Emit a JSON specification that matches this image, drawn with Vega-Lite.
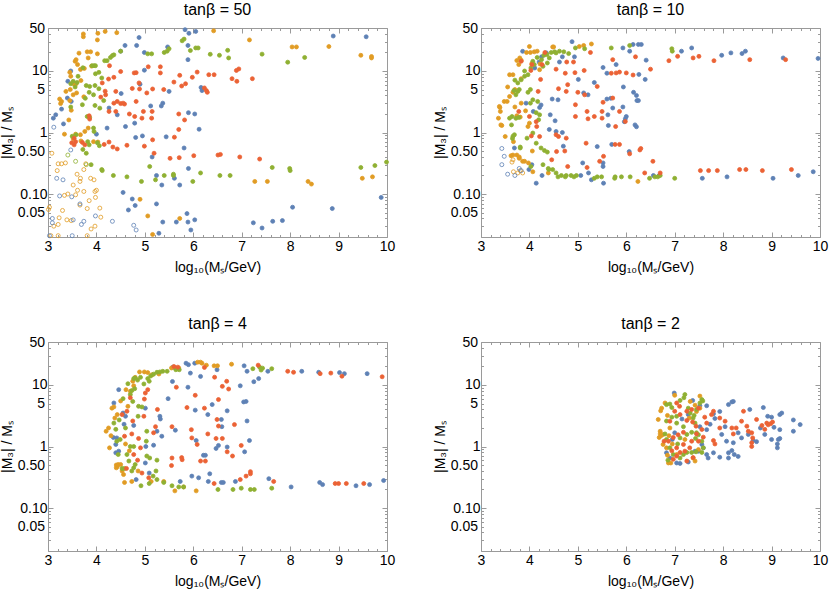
{
  "$schema": "https://vega.github.io/schema/vega-lite/v6.json",
  "background": "white",
  "padding": {"left": 0, "top": 2, "right": 4, "bottom": 2},
  "columns": 2,
  "spacing": {"row": 41, "column": 38},
  "config": {
    "view": {"stroke": null},
    "font": "Liberation Sans",
    "axis": {"domainColor": "#9a9a9a", "tickColor": "#9a9a9a", "labelColor": "#000", "labelFontSize": 14, "titleFontSize": 14, "titleFontWeight": "normal", "titleColor": "#000", "grid": false, "labelOverlap": false, "labelFlush": false},
    "title": {"fontSize": 16, "fontWeight": "normal", "color": "#000", "offset": 3}
  },
  "data": {"values": [
{"p":1,"s":"b","x":3.11,"y":1.71},{"p":1,"s":"b","x":3.16,"y":1.94},{"p":1,"s":"b","x":3.28,"y":2.4},{"p":1,"s":"b","x":3.32,"y":1.38},{"p":1,"s":"b","x":3.4,"y":3.63},{"p":1,"s":"b","x":3.47,"y":10},{"p":1,"s":"b","x":3.41,"y":6.8},{"p":1,"s":"b","x":3.48,"y":3.2},{"p":1,"s":"b","x":4.0,"y":0.94},{"p":1,"s":"b","x":4.22,"y":1.18},{"p":1,"s":"b","x":4.26,"y":2.5},{"p":1,"s":"b","x":4.43,"y":1.94},{"p":1,"s":"b","x":4.51,"y":4.3},{"p":1,"s":"b","x":4.59,"y":26},{"p":1,"s":"b","x":4.5,"y":21},{"p":1,"s":"b","x":4.6,"y":1.25},{"p":1,"s":"b","x":4.83,"y":26},{"p":1,"s":"b","x":4.88,"y":35},{"p":1,"s":"b","x":4.81,"y":0.83},{"p":1,"s":"b","x":4.95,"y":0.88},{"p":1,"s":"b","x":4.99,"y":20},{"p":1,"s":"b","x":4.99,"y":10.3},{"p":1,"s":"b","x":4.9,"y":6.1},{"p":1,"s":"b","x":5.12,"y":2.7},{"p":1,"s":"b","x":5.15,"y":0.4},{"p":1,"s":"b","x":5.34,"y":2.7},{"p":1,"s":"b","x":5.37,"y":3.0},{"p":1,"s":"b","x":5.44,"y":0.85},{"p":1,"s":"b","x":5.47,"y":24.6},{"p":1,"s":"b","x":5.5,"y":4.66},{"p":1,"s":"b","x":5.81,"y":0.56},{"p":1,"s":"b","x":5.83,"y":47},{"p":1,"s":"b","x":5.91,"y":41},{"p":1,"s":"b","x":5.89,"y":15.3},{"p":1,"s":"b","x":5.89,"y":26},{"p":1,"s":"b","x":5.9,"y":2.1},{"p":1,"s":"b","x":6.03,"y":2.0},{"p":1,"s":"b","x":6.05,"y":44},{"p":1,"s":"b","x":6.12,"y":1.13},{"p":1,"s":"b","x":6.16,"y":5.4},{"p":1,"s":"b","x":6.18,"y":4.8},{"p":1,"s":"b","x":5.9,"y":0.26},{"p":1,"s":"b","x":5.24,"y":0.2},{"p":1,"s":"b","x":5.35,"y":0.14},{"p":1,"s":"b","x":5.61,"y":0.18},{"p":1,"s":"b","x":5.72,"y":0.14},{"p":1,"s":"b","x":4.55,"y":0.106},{"p":1,"s":"b","x":4.74,"y":0.083},{"p":1,"s":"b","x":4.8,"y":0.065},{"p":1,"s":"b","x":4.66,"y":0.055},{"p":1,"s":"b","x":5.24,"y":0.069},{"p":1,"s":"b","x":5.37,"y":0.035},{"p":1,"s":"b","x":5.29,"y":0.023},{"p":1,"s":"b","x":5.65,"y":0.035},{"p":1,"s":"b","x":5.87,"y":0.048},{"p":1,"s":"b","x":5.89,"y":0.035},{"p":1,"s":"b","x":5.95,"y":0.026},{"p":1,"s":"b","x":6.03,"y":0.038},{"p":1,"s":"b","x":7.24,"y":0.034},{"p":1,"s":"b","x":7.42,"y":0.028},{"p":1,"s":"b","x":7.64,"y":0.036},{"p":1,"s":"b","x":7.84,"y":0.037},{"p":1,"s":"b","x":8.05,"y":0.061},{"p":1,"s":"b","x":8.87,"y":0.058},{"p":1,"s":"b","x":9.88,"y":0.088},{"p":1,"s":"b","x":8.89,"y":37},{"p":1,"s":"b","x":9.57,"y":36},{"p":1,"s":"b","x":4.79,"y":1.42},
{"p":1,"s":"o","x":3.73,"y":40},{"p":1,"s":"o","x":3.73,"y":36},{"p":1,"s":"o","x":4.03,"y":41},{"p":1,"s":"o","x":4.18,"y":44},{"p":1,"s":"o","x":4.42,"y":42},{"p":1,"s":"o","x":4.02,"y":32},{"p":1,"s":"o","x":3.64,"y":19.5},{"p":1,"s":"o","x":3.56,"y":14.4},{"p":1,"s":"o","x":3.58,"y":15.3},{"p":1,"s":"o","x":3.61,"y":12.7},{"p":1,"s":"o","x":3.81,"y":20.5},{"p":1,"s":"o","x":3.88,"y":20.5},{"p":1,"s":"o","x":4.02,"y":19},{"p":1,"s":"o","x":3.83,"y":16.3},{"p":1,"s":"o","x":3.67,"y":10.6},{"p":1,"s":"o","x":3.75,"y":11},{"p":1,"s":"o","x":3.45,"y":9.5},{"p":1,"s":"o","x":3.9,"y":12},{"p":1,"s":"o","x":3.37,"y":4.66},{"p":1,"s":"o","x":3.46,"y":5},{"p":1,"s":"o","x":3.54,"y":6.1},{"p":1,"s":"o","x":3.58,"y":6.2},{"p":1,"s":"o","x":3.24,"y":3.5},{"p":1,"s":"o","x":3.26,"y":2.95},{"p":1,"s":"o","x":3.28,"y":3.2},{"p":1,"s":"o","x":3.45,"y":3.3},{"p":1,"s":"o","x":3.43,"y":1.6},{"p":1,"s":"o","x":3.48,"y":2.3},{"p":1,"s":"o","x":3.52,"y":0.79},{"p":1,"s":"o","x":3.57,"y":0.94},{"p":1,"s":"o","x":3.67,"y":0.92},{"p":1,"s":"o","x":3.76,"y":1.04},{"p":1,"s":"o","x":3.68,"y":0.73},{"p":1,"s":"o","x":3.83,"y":1.18},{"p":1,"s":"o","x":6.42,"y":45},{"p":1,"s":"o","x":7.16,"y":32},{"p":1,"s":"o","x":8.04,"y":24.6},{"p":1,"s":"o","x":8.13,"y":24.6},{"p":1,"s":"o","x":8.8,"y":25},{"p":1,"s":"o","x":9.46,"y":18},{"p":1,"s":"o","x":9.68,"y":17.2},{"p":1,"s":"o","x":9.68,"y":16.3},{"p":1,"s":"o","x":7.27,"y":0.16},{"p":1,"s":"o","x":7.53,"y":0.16},{"p":1,"s":"o","x":8.37,"y":0.16},{"p":1,"s":"o","x":8.44,"y":0.145},{"p":1,"s":"o","x":9.49,"y":0.18},{"p":1,"s":"o","x":9.7,"y":0.19},{"p":1,"s":"o","x":4.9,"y":0.082},{"p":1,"s":"o","x":5.06,"y":0.044},{"p":1,"s":"o","x":5.72,"y":0.04},{"p":1,"s":"o","x":5.16,"y":0.022},{"p":1,"s":"o","x":3.47,"y":8.2},{"p":1,"s":"o","x":3.68,"y":7.0},{"p":1,"s":"o","x":3.52,"y":4.1},{"p":1,"s":"o","x":3.59,"y":4.4},{"p":1,"s":"o","x":3.74,"y":3.8},{"p":1,"s":"o","x":3.34,"y":0.94},{"p":1,"s":"o","x":3.94,"y":0.71},{"p":1,"s":"o","x":4.03,"y":0.7},
{"p":1,"s":"g","x":3.6,"y":6.5},{"p":1,"s":"g","x":3.72,"y":11.3},{"p":1,"s":"g","x":3.91,"y":12.2},{"p":1,"s":"g","x":3.95,"y":12.2},{"p":1,"s":"g","x":3.98,"y":12.2},{"p":1,"s":"g","x":3.98,"y":9},{"p":1,"s":"g","x":4.05,"y":9.5},{"p":1,"s":"g","x":4.17,"y":14.7},{"p":1,"s":"g","x":4.22,"y":14.7},{"p":1,"s":"g","x":4.29,"y":16.6},{"p":1,"s":"g","x":4.33,"y":17.8},{"p":1,"s":"g","x":4.36,"y":18.3},{"p":1,"s":"g","x":4.5,"y":21},{"p":1,"s":"g","x":5.06,"y":19},{"p":1,"s":"g","x":5.14,"y":19},{"p":1,"s":"g","x":5.4,"y":20},{"p":1,"s":"g","x":5.46,"y":21},{"p":1,"s":"g","x":5.5,"y":23},{"p":1,"s":"g","x":5.77,"y":31},{"p":1,"s":"g","x":5.81,"y":33},{"p":1,"s":"g","x":5.94,"y":21.5},{"p":1,"s":"g","x":6.05,"y":23.7},{"p":1,"s":"g","x":6.1,"y":23.7},{"p":1,"s":"g","x":6.35,"y":18.7},{"p":1,"s":"g","x":6.54,"y":18},{"p":1,"s":"g","x":6.71,"y":21.7},{"p":1,"s":"g","x":6.73,"y":16.3},{"p":1,"s":"g","x":7.42,"y":18.8},{"p":1,"s":"g","x":7.95,"y":13.9},{"p":1,"s":"g","x":8.3,"y":16.6},{"p":1,"s":"g","x":3.47,"y":6.2},{"p":1,"s":"g","x":3.52,"y":6.8},{"p":1,"s":"g","x":3.56,"y":5.5},{"p":1,"s":"g","x":3.79,"y":5.8},{"p":1,"s":"g","x":3.86,"y":5.6},{"p":1,"s":"g","x":3.97,"y":5.8},{"p":1,"s":"g","x":4.05,"y":5.15},{"p":1,"s":"g","x":4.11,"y":7.7},{"p":1,"s":"g","x":3.85,"y":4.5},{"p":1,"s":"g","x":3.94,"y":4.1},{"p":1,"s":"g","x":3.71,"y":2.83},{"p":1,"s":"g","x":3.81,"y":1.82},{"p":1,"s":"g","x":3.86,"y":1.76},{"p":1,"s":"g","x":3.97,"y":2.75},{"p":1,"s":"g","x":4.07,"y":2.49},{"p":1,"s":"g","x":3.47,"y":2.6},{"p":1,"s":"g","x":3.5,"y":0.87},{"p":1,"s":"g","x":3.58,"y":0.92},{"p":1,"s":"g","x":3.94,"y":1.18},{"p":1,"s":"g","x":3.95,"y":1.04},{"p":1,"s":"g","x":3.82,"y":0.71},{"p":1,"s":"g","x":3.79,"y":0.46},{"p":1,"s":"g","x":3.85,"y":0.63},{"p":1,"s":"g","x":4.02,"y":0.68},{"p":1,"s":"g","x":4.06,"y":0.61},{"p":1,"s":"g","x":3.89,"y":0.3},{"p":1,"s":"g","x":4.11,"y":0.25},{"p":1,"s":"g","x":4.12,"y":0.24},{"p":1,"s":"g","x":4.35,"y":0.2},{"p":1,"s":"g","x":4.63,"y":0.19},{"p":1,"s":"g","x":5.1,"y":0.28},{"p":1,"s":"g","x":4.93,"y":0.16},{"p":1,"s":"g","x":5.22,"y":0.17},{"p":1,"s":"g","x":5.4,"y":0.2},{"p":1,"s":"g","x":5.59,"y":0.2},{"p":1,"s":"g","x":5.59,"y":0.21},{"p":1,"s":"g","x":5.99,"y":0.16},{"p":1,"s":"g","x":6.15,"y":0.22},{"p":1,"s":"g","x":6.55,"y":0.2},{"p":1,"s":"g","x":6.76,"y":0.2},{"p":1,"s":"g","x":7.63,"y":0.27},{"p":1,"s":"g","x":7.99,"y":0.26},{"p":1,"s":"g","x":8.0,"y":0.24},{"p":1,"s":"g","x":9.46,"y":0.27},{"p":1,"s":"g","x":9.75,"y":0.29},{"p":1,"s":"g","x":9.99,"y":0.33},{"p":1,"s":"g","x":3.77,"y":3.6},{"p":1,"s":"g","x":3.62,"y":8.2},{"p":1,"s":"g","x":4.15,"y":3.3},{"p":1,"s":"g","x":3.72,"y":0.53},
{"p":1,"s":"r","x":4.27,"y":12.2},{"p":1,"s":"r","x":4.5,"y":9.8},{"p":1,"s":"r","x":4.78,"y":9.3},{"p":1,"s":"r","x":4.82,"y":9.4},{"p":1,"s":"r","x":5.07,"y":11.7},{"p":1,"s":"r","x":5.32,"y":11.7},{"p":1,"s":"r","x":5.32,"y":9.3},{"p":1,"s":"r","x":5.72,"y":8.5},{"p":1,"s":"r","x":5.6,"y":6.6},{"p":1,"s":"r","x":5.76,"y":5.7},{"p":1,"s":"r","x":5.84,"y":6.2},{"p":1,"s":"r","x":5.98,"y":7.9},{"p":1,"s":"r","x":6.08,"y":9.6},{"p":1,"s":"r","x":6.32,"y":8.7},{"p":1,"s":"r","x":6.43,"y":8.7},{"p":1,"s":"r","x":6.23,"y":5.3},{"p":1,"s":"r","x":6.27,"y":4.8},{"p":1,"s":"r","x":6.29,"y":4.5},{"p":1,"s":"r","x":6.8,"y":7.5},{"p":1,"s":"r","x":6.89,"y":10.2},{"p":1,"s":"r","x":6.94,"y":10.8},{"p":1,"s":"r","x":6.9,"y":6.8},{"p":1,"s":"r","x":7.22,"y":7.5},{"p":1,"s":"r","x":4.25,"y":7.4},{"p":1,"s":"r","x":4.36,"y":7.9},{"p":1,"s":"r","x":4.12,"y":6.4},{"p":1,"s":"r","x":4.18,"y":4.7},{"p":1,"s":"r","x":4.4,"y":4.66},{"p":1,"s":"r","x":4.74,"y":5.2},{"p":1,"s":"r","x":4.88,"y":6.4},{"p":1,"s":"r","x":5.16,"y":5.1},{"p":1,"s":"r","x":5.39,"y":5.0},{"p":1,"s":"r","x":5.04,"y":4.4},{"p":1,"s":"r","x":4.89,"y":5.1},{"p":1,"s":"r","x":4.43,"y":3.2},{"p":1,"s":"r","x":4.5,"y":2.95},{"p":1,"s":"r","x":4.58,"y":2.9},{"p":1,"s":"r","x":4.82,"y":3.2},{"p":1,"s":"r","x":4.26,"y":2.2},{"p":1,"s":"r","x":4.4,"y":2.2},{"p":1,"s":"r","x":4.68,"y":2.0},{"p":1,"s":"r","x":4.97,"y":2.2},{"p":1,"s":"r","x":5.15,"y":2.2},{"p":1,"s":"r","x":4.79,"y":1.82},{"p":1,"s":"r","x":4.94,"y":1.71},{"p":1,"s":"r","x":5.14,"y":1.71},{"p":1,"s":"r","x":5.7,"y":2.0},{"p":1,"s":"r","x":5.82,"y":1.6},{"p":1,"s":"r","x":5.7,"y":1.12},{"p":1,"s":"r","x":5.61,"y":0.84},{"p":1,"s":"r","x":5.16,"y":0.76},{"p":1,"s":"r","x":4.99,"y":0.6},{"p":1,"s":"r","x":4.16,"y":0.64},{"p":1,"s":"r","x":4.26,"y":0.7},{"p":1,"s":"r","x":4.34,"y":0.58},{"p":1,"s":"r","x":4.43,"y":0.54},{"p":1,"s":"r","x":4.63,"y":0.62},{"p":1,"s":"r","x":3.76,"y":0.63},{"p":1,"s":"r","x":3.71,"y":0.69},{"p":1,"s":"r","x":3.54,"y":0.63},{"p":1,"s":"r","x":3.49,"y":0.68},{"p":1,"s":"r","x":3.54,"y":0.81},{"p":1,"s":"r","x":3.57,"y":0.71},{"p":1,"s":"r","x":5.52,"y":0.38},{"p":1,"s":"r","x":5.71,"y":0.39},{"p":1,"s":"r","x":6.51,"y":0.43},{"p":1,"s":"r","x":6.56,"y":0.44},{"p":1,"s":"r","x":6.96,"y":0.4},{"p":1,"s":"r","x":7.37,"y":0.37},{"p":1,"s":"r","x":6.01,"y":0.42},{"p":1,"s":"r","x":5.19,"y":0.46},{"p":1,"s":"r","x":4.55,"y":3.0},{"p":1,"s":"r","x":3.85,"y":1.87},{"p":1,"s":"r","x":3.86,"y":1.65},{"p":1,"s":"r","x":4.09,"y":3.76},{"p":1,"s":"r","x":4.19,"y":4.1},{"p":1,"s":"r","x":4.36,"y":3.0},
{"p":1,"s":"o","h":1,"x":3.08,"y":0.46},{"p":1,"s":"o","h":1,"x":3.21,"y":0.31},{"p":1,"s":"o","h":1,"x":3.28,"y":0.31},{"p":1,"s":"o","h":1,"x":3.36,"y":0.32},{"p":1,"s":"o","h":1,"x":3.19,"y":0.24},{"p":1,"s":"o","h":1,"x":3.03,"y":0.061},{"p":1,"s":"o","h":1,"x":3.3,"y":0.054},{"p":1,"s":"o","h":1,"x":3.23,"y":0.041},{"p":1,"s":"o","h":1,"x":3.21,"y":0.032},{"p":1,"s":"o","h":1,"x":3.12,"y":0.03},{"p":1,"s":"o","h":1,"x":3.39,"y":0.038},{"p":1,"s":"o","h":1,"x":3.48,"y":0.037},{"p":1,"s":"o","h":1,"x":3.34,"y":0.095},{"p":1,"s":"o","h":1,"x":3.41,"y":0.1},{"p":1,"s":"o","h":1,"x":3.57,"y":0.097},{"p":1,"s":"o","h":1,"x":3.66,"y":0.16},{"p":1,"s":"o","h":1,"x":3.67,"y":0.18},{"p":1,"s":"o","h":1,"x":3.74,"y":0.25},{"p":1,"s":"o","h":1,"x":3.78,"y":0.31},{"p":1,"s":"o","h":1,"x":3.61,"y":0.115},{"p":1,"s":"o","h":1,"x":3.74,"y":0.11},{"p":1,"s":"o","h":1,"x":3.66,"y":0.066},{"p":1,"s":"o","h":1,"x":3.81,"y":0.058},{"p":1,"s":"o","h":1,"x":3.85,"y":0.078},{"p":1,"s":"o","h":1,"x":3.88,"y":0.18},{"p":1,"s":"o","h":1,"x":3.95,"y":0.17},{"p":1,"s":"o","h":1,"x":3.97,"y":0.11},{"p":1,"s":"o","h":1,"x":4.0,"y":0.115},{"p":1,"s":"o","h":1,"x":3.98,"y":0.088},{"p":1,"s":"o","h":1,"x":4.07,"y":0.059},{"p":1,"s":"o","h":1,"x":3.89,"y":0.027},{"p":1,"s":"o","h":1,"x":3.97,"y":0.03},{"p":1,"s":"o","h":1,"x":4.09,"y":0.042},{"p":1,"s":"o","h":1,"x":3.81,"y":0.021},{"p":1,"s":"o","h":1,"x":3.06,"y":0.021},{"p":1,"s":"o","h":1,"x":3.21,"y":0.021},{"p":1,"s":"o","h":1,"x":3.01,"y":0.056},{"p":1,"s":"o","h":1,"x":3.6,"y":0.21},{"p":1,"s":"o","h":1,"x":3.52,"y":0.14},
{"p":1,"s":"b","h":1,"x":3.12,"y":1.22},{"p":1,"s":"b","h":1,"x":3.18,"y":0.18},{"p":1,"s":"b","h":1,"x":3.31,"y":0.17},{"p":1,"s":"b","h":1,"x":3.24,"y":0.093},{"p":1,"s":"b","h":1,"x":3.49,"y":0.09},{"p":1,"s":"b","h":1,"x":3.66,"y":0.069},{"p":1,"s":"b","h":1,"x":3.74,"y":0.036},{"p":1,"s":"b","h":1,"x":3.98,"y":0.044},{"p":1,"s":"b","h":1,"x":3.52,"y":0.038},{"p":1,"s":"b","h":1,"x":3.69,"y":0.032},{"p":1,"s":"b","h":1,"x":3.03,"y":0.021},{"p":1,"s":"b","h":1,"x":3.5,"y":0.021},{"p":1,"s":"b","h":1,"x":4.33,"y":0.036},{"p":1,"s":"b","h":1,"x":4.77,"y":0.031},{"p":1,"s":"b","h":1,"x":4.82,"y":0.026},{"p":1,"s":"b","h":1,"x":3.47,"y":0.52},{"p":1,"s":"b","h":1,"x":3.09,"y":0.04},{"p":1,"s":"b","h":1,"x":3.09,"y":0.034},
{"p":1,"s":"g","h":1,"x":3.41,"y":0.43},{"p":1,"s":"g","h":1,"x":3.57,"y":0.34},{"p":1,"s":"g","h":1,"x":3.79,"y":0.3},
{"p":2,"s":"b","x":3.86,"y":20.9},{"p":2,"s":"b","x":4.62,"y":14},{"p":2,"s":"b","x":4.68,"y":17},{"p":2,"s":"b","x":4.88,"y":30},{"p":2,"s":"b","x":4.93,"y":17},{"p":2,"s":"b","x":5.01,"y":7.3},{"p":2,"s":"b","x":5.12,"y":4.4},{"p":2,"s":"b","x":5.21,"y":4.1},{"p":2,"s":"b","x":5.34,"y":6.5},{"p":2,"s":"b","x":5.52,"y":11.4},{"p":2,"s":"b","x":5.6,"y":9.2},{"p":2,"s":"b","x":5.6,"y":3.5},{"p":2,"s":"b","x":5.68,"y":3.6},{"p":2,"s":"b","x":5.62,"y":1.94},{"p":2,"s":"b","x":5.63,"y":1.3},{"p":2,"s":"b","x":5.72,"y":2.5},{"p":2,"s":"b","x":5.79,"y":12.7},{"p":2,"s":"b","x":5.93,"y":23.7},{"p":2,"s":"b","x":6.14,"y":27},{"p":2,"s":"b","x":6.25,"y":27},{"p":2,"s":"b","x":6.31,"y":27},{"p":2,"s":"b","x":6.07,"y":21},{"p":2,"s":"b","x":5.94,"y":5.5},{"p":2,"s":"b","x":5.93,"y":2.6},{"p":2,"s":"b","x":5.98,"y":1.67},{"p":2,"s":"b","x":5.96,"y":1.5},{"p":2,"s":"b","x":6.0,"y":1.82},{"p":2,"s":"b","x":6.15,"y":4.5},{"p":2,"s":"b","x":6.21,"y":4.0},{"p":2,"s":"b","x":6.22,"y":3.3},{"p":2,"s":"b","x":6.25,"y":3.3},{"p":2,"s":"b","x":6.18,"y":1.33},{"p":2,"s":"b","x":6.21,"y":1.24},{"p":2,"s":"b","x":6.26,"y":8.8},{"p":2,"s":"b","x":6.39,"y":7.3},{"p":2,"s":"b","x":6.41,"y":15},{"p":2,"s":"b","x":7.14,"y":21},{"p":2,"s":"b","x":7.35,"y":23.7},{"p":2,"s":"b","x":7.97,"y":18},{"p":2,"s":"b","x":8.16,"y":19.7},{"p":2,"s":"b","x":8.39,"y":19.2},{"p":2,"s":"b","x":8.46,"y":21},{"p":2,"s":"b","x":9.24,"y":16.3},{"p":2,"s":"b","x":9.96,"y":16},{"p":2,"s":"b","x":4.47,"y":3.5},{"p":2,"s":"b","x":4.43,"y":1.94},{"p":2,"s":"b","x":4.53,"y":1.55},{"p":2,"s":"b","x":4.55,"y":1.04},{"p":2,"s":"b","x":4.59,"y":3.4},{"p":2,"s":"b","x":4.68,"y":1.0},{"p":2,"s":"b","x":4.41,"y":1.12},{"p":2,"s":"b","x":4.21,"y":2.55},{"p":2,"s":"b","x":3.93,"y":3.0},{"p":2,"s":"b","x":4.05,"y":0.3},{"p":2,"s":"b","x":3.99,"y":0.25},{"p":2,"s":"b","x":4.14,"y":0.15},{"p":2,"s":"b","x":4.26,"y":0.2},{"p":2,"s":"b","x":5.4,"y":0.59},{"p":2,"s":"b","x":5.1,"y":0.32},{"p":2,"s":"b","x":5.22,"y":0.22},{"p":2,"s":"b","x":5.28,"y":0.17},{"p":2,"s":"b","x":5.52,"y":0.32},{"p":2,"s":"b","x":5.52,"y":0.28},{"p":2,"s":"b","x":5.53,"y":0.15},{"p":2,"s":"b","x":5.7,"y":0.64},{"p":2,"s":"b","x":6.06,"y":0.49},{"p":2,"s":"b","x":6.56,"y":0.2},{"p":2,"s":"b","x":6.68,"y":0.2},{"p":2,"s":"b","x":7.57,"y":0.18},{"p":2,"s":"b","x":8.08,"y":0.19},{"p":2,"s":"b","x":9.03,"y":0.18},{"p":2,"s":"b","x":9.55,"y":0.2},{"p":2,"s":"b","x":9.86,"y":0.23},{"p":2,"s":"b","x":5.06,"y":0.2},{"p":2,"s":"b","x":4.24,"y":2.8},{"p":2,"s":"b","x":4.08,"y":2.2},{"p":2,"s":"b","x":3.69,"y":0.56},{"p":2,"s":"b","x":4.7,"y":0.6},{"p":2,"s":"b","x":4.2,"y":14},{"p":2,"s":"b","x":4.25,"y":17},{"p":2,"s":"b","x":4.11,"y":11.2},{"p":2,"s":"b","x":4.35,"y":19.7},
{"p":2,"s":"o","x":3.36,"y":1.71},{"p":2,"s":"o","x":3.41,"y":1.33},{"p":2,"s":"o","x":3.39,"y":2.55},{"p":2,"s":"o","x":3.4,"y":2.2},{"p":2,"s":"o","x":3.48,"y":3.2},{"p":2,"s":"o","x":3.54,"y":3.2},{"p":2,"s":"o","x":3.59,"y":3.85},{"p":2,"s":"o","x":3.59,"y":8.7},{"p":2,"s":"o","x":3.66,"y":8.7},{"p":2,"s":"o","x":3.66,"y":4.5},{"p":2,"s":"o","x":3.7,"y":5.0},{"p":2,"s":"o","x":3.78,"y":12.7},{"p":2,"s":"o","x":3.83,"y":15},{"p":2,"s":"o","x":3.8,"y":16.3},{"p":2,"s":"o","x":4.0,"y":25},{"p":2,"s":"o","x":3.94,"y":20},{"p":2,"s":"o","x":4.1,"y":20.5},{"p":2,"s":"o","x":4.22,"y":13},{"p":2,"s":"o","x":4.48,"y":24.6},{"p":2,"s":"o","x":3.83,"y":7.5},{"p":2,"s":"o","x":3.83,"y":3.0},{"p":2,"s":"o","x":3.66,"y":0.43},{"p":2,"s":"o","x":3.67,"y":0.71},{"p":2,"s":"o","x":3.79,"y":0.38},{"p":2,"s":"o","x":3.86,"y":0.34},{"p":2,"s":"o","x":4.06,"y":0.5},{"p":2,"s":"o","x":5.03,"y":25},{"p":2,"s":"o","x":5.12,"y":26},{"p":2,"s":"o","x":5.28,"y":27.5},{"p":2,"s":"o","x":6.24,"y":0.16},{"p":2,"s":"o","x":3.38,"y":2.65},{"p":2,"s":"o","x":3.43,"y":1.3},{"p":2,"s":"o","x":3.5,"y":0.86},{"p":2,"s":"o","x":3.74,"y":14.8},{"p":2,"s":"o","x":4.02,"y":20},{"p":2,"s":"o","x":4.16,"y":21},{"p":2,"s":"o","x":4.5,"y":24.6},{"p":2,"s":"o","x":3.74,"y":1.87},{"p":2,"s":"o","x":3.81,"y":1.78},{"p":2,"s":"o","x":3.92,"y":2.25},{"p":2,"s":"o","x":3.97,"y":1.25},{"p":2,"s":"o","x":4.0,"y":1.42},{"p":2,"s":"o","x":3.62,"y":0.42},{"p":2,"s":"o","x":3.74,"y":0.43},{"p":2,"s":"o","x":3.79,"y":0.4},{"p":2,"s":"o","x":3.9,"y":0.34},{"p":2,"s":"o","x":3.98,"y":0.32},{"p":2,"s":"o","x":4.07,"y":0.23},{"p":2,"s":"o","x":4.39,"y":0.22},{"p":2,"s":"o","x":4.05,"y":13.2},{"p":2,"s":"o","x":4.21,"y":10.5},{"p":2,"s":"o","x":3.55,"y":5.5},{"p":2,"s":"o","x":3.7,"y":2.6},
{"p":2,"s":"g","x":3.59,"y":1.71},{"p":2,"s":"g","x":3.64,"y":1.82},{"p":2,"s":"g","x":3.72,"y":1.7},{"p":2,"s":"g","x":3.78,"y":1.76},{"p":2,"s":"g","x":3.66,"y":0.87},{"p":2,"s":"g","x":3.69,"y":0.92},{"p":2,"s":"g","x":3.65,"y":0.8},{"p":2,"s":"g","x":3.72,"y":4.1},{"p":2,"s":"g","x":3.79,"y":5.0},{"p":2,"s":"g","x":3.97,"y":8.7},{"p":2,"s":"g","x":3.9,"y":10},{"p":2,"s":"g","x":4.03,"y":11.2},{"p":2,"s":"g","x":4.07,"y":14.4},{"p":2,"s":"g","x":4.16,"y":16.6},{"p":2,"s":"g","x":4.25,"y":15.3},{"p":2,"s":"g","x":4.3,"y":18},{"p":2,"s":"g","x":4.36,"y":18.5},{"p":2,"s":"g","x":4.45,"y":20},{"p":2,"s":"g","x":4.52,"y":20.5},{"p":2,"s":"g","x":4.62,"y":21},{"p":2,"s":"g","x":4.71,"y":20.5},{"p":2,"s":"g","x":4.95,"y":23.7},{"p":2,"s":"g","x":5.14,"y":23},{"p":2,"s":"g","x":5.69,"y":23.7},{"p":2,"s":"g","x":6.07,"y":26},{"p":2,"s":"g","x":6.94,"y":23},{"p":2,"s":"g","x":6.95,"y":21},{"p":2,"s":"g","x":3.7,"y":7.1},{"p":2,"s":"g","x":3.97,"y":4.5},{"p":2,"s":"g","x":4.07,"y":3.4},{"p":2,"s":"g","x":4.17,"y":3.2},{"p":2,"s":"g","x":4.19,"y":1.61},{"p":2,"s":"g","x":3.95,"y":0.81},{"p":2,"s":"g","x":4.07,"y":0.98},{"p":2,"s":"g","x":3.81,"y":0.56},{"p":2,"s":"g","x":4.37,"y":0.48},{"p":2,"s":"g","x":4.4,"y":0.25},{"p":2,"s":"g","x":4.55,"y":0.22},{"p":2,"s":"g","x":4.66,"y":0.2},{"p":2,"s":"g","x":4.76,"y":0.2},{"p":2,"s":"g","x":4.86,"y":0.2},{"p":2,"s":"g","x":4.97,"y":0.2},{"p":2,"s":"g","x":5.4,"y":0.19},{"p":2,"s":"g","x":5.49,"y":0.19},{"p":2,"s":"g","x":5.77,"y":0.19},{"p":2,"s":"g","x":5.9,"y":0.19},{"p":2,"s":"g","x":6.08,"y":0.19},{"p":2,"s":"g","x":6.48,"y":0.18},{"p":2,"s":"g","x":6.59,"y":0.19},{"p":2,"s":"g","x":6.65,"y":0.19},{"p":2,"s":"g","x":6.7,"y":0.2},{"p":2,"s":"g","x":7.0,"y":0.18},{"p":2,"s":"g","x":3.76,"y":6.4},{"p":2,"s":"g","x":3.83,"y":7.2},{"p":2,"s":"g","x":3.9,"y":8.2},{"p":2,"s":"g","x":4.1,"y":12.7},{"p":2,"s":"g","x":4.28,"y":11.9},{"p":2,"s":"g","x":4.37,"y":13.5},{"p":2,"s":"g","x":4.41,"y":16.3},{"p":2,"s":"g","x":4.55,"y":19.7},{"p":2,"s":"g","x":4.81,"y":19.2},{"p":2,"s":"g","x":3.68,"y":4.8},{"p":2,"s":"g","x":3.76,"y":4.66},{"p":2,"s":"g","x":4.02,"y":5.0},{"p":2,"s":"g","x":4.02,"y":3.0},{"p":2,"s":"g","x":4.14,"y":2.1},{"p":2,"s":"g","x":4.21,"y":1.94},{"p":2,"s":"g","x":3.63,"y":1.33},{"p":2,"s":"g","x":3.81,"y":0.58},{"p":2,"s":"g","x":4.14,"y":0.67},{"p":2,"s":"g","x":4.24,"y":0.56},{"p":2,"s":"g","x":4.31,"y":0.51},{"p":2,"s":"g","x":4.28,"y":0.3},{"p":2,"s":"g","x":4.39,"y":0.26},{"p":2,"s":"g","x":4.48,"y":0.25},{"p":2,"s":"g","x":4.59,"y":0.19},{"p":2,"s":"g","x":4.74,"y":0.19},{"p":2,"s":"g","x":4.92,"y":0.19},{"p":2,"s":"g","x":5.34,"y":0.18},{"p":2,"s":"g","x":5.76,"y":0.18},{"p":2,"s":"g","x":4.03,"y":0.28},
{"p":2,"s":"r","x":4.26,"y":12.7},{"p":2,"s":"r","x":4.55,"y":10.7},{"p":2,"s":"r","x":4.77,"y":14},{"p":2,"s":"r","x":4.91,"y":14},{"p":2,"s":"r","x":4.74,"y":9.2},{"p":2,"s":"r","x":4.94,"y":9.4},{"p":2,"s":"r","x":5.13,"y":10.2},{"p":2,"s":"r","x":5.26,"y":20},{"p":2,"s":"r","x":5.72,"y":15.3},{"p":2,"s":"r","x":5.69,"y":9.2},{"p":2,"s":"r","x":5.79,"y":9.3},{"p":2,"s":"r","x":5.86,"y":9.6},{"p":2,"s":"r","x":6.0,"y":9.3},{"p":2,"s":"r","x":6.14,"y":8.6},{"p":2,"s":"r","x":6.19,"y":17},{"p":2,"s":"r","x":6.5,"y":10.7},{"p":2,"s":"r","x":6.88,"y":14.7},{"p":2,"s":"r","x":7.06,"y":17.3},{"p":2,"s":"r","x":7.38,"y":16.3},{"p":2,"s":"r","x":7.5,"y":17.3},{"p":2,"s":"r","x":7.81,"y":14.7},{"p":2,"s":"r","x":8.55,"y":15.3},{"p":2,"s":"r","x":9.29,"y":15.3},{"p":2,"s":"r","x":4.6,"y":5.15},{"p":2,"s":"r","x":4.79,"y":6.0},{"p":2,"s":"r","x":4.76,"y":4.66},{"p":2,"s":"r","x":5.0,"y":4.5},{"p":2,"s":"r","x":5.14,"y":4.1},{"p":2,"s":"r","x":4.95,"y":2.83},{"p":2,"s":"r","x":4.95,"y":1.82},{"p":2,"s":"r","x":5.19,"y":2.2},{"p":2,"s":"r","x":5.21,"y":1.67},{"p":2,"s":"r","x":5.34,"y":1.82},{"p":2,"s":"r","x":5.4,"y":5.6},{"p":2,"s":"r","x":5.5,"y":2.2},{"p":2,"s":"r","x":5.5,"y":1.71},{"p":2,"s":"r","x":5.52,"y":3.1},{"p":2,"s":"r","x":5.72,"y":3.63},{"p":2,"s":"r","x":5.78,"y":1.25},{"p":2,"s":"r","x":5.86,"y":2.2},{"p":2,"s":"r","x":5.98,"y":1.51},{"p":2,"s":"r","x":4.76,"y":0.81},{"p":2,"s":"r","x":4.55,"y":0.92},{"p":2,"s":"r","x":4.6,"y":0.86},{"p":2,"s":"r","x":4.73,"y":0.5},{"p":2,"s":"r","x":4.56,"y":0.49},{"p":2,"s":"r","x":5.17,"y":0.67},{"p":2,"s":"r","x":5.53,"y":0.41},{"p":2,"s":"r","x":5.77,"y":0.64},{"p":2,"s":"r","x":5.86,"y":0.64},{"p":2,"s":"r","x":6.07,"y":0.45},{"p":2,"s":"r","x":6.28,"y":0.52},{"p":2,"s":"r","x":6.3,"y":0.55},{"p":2,"s":"r","x":6.55,"y":0.34},{"p":2,"s":"r","x":6.7,"y":0.22},{"p":2,"s":"r","x":6.38,"y":0.22},{"p":2,"s":"r","x":4.79,"y":0.28},{"p":2,"s":"r","x":5.19,"y":0.27},{"p":2,"s":"r","x":5.45,"y":0.34},{"p":2,"s":"r","x":4.21,"y":0.86},{"p":2,"s":"r","x":4.04,"y":0.88},{"p":2,"s":"r","x":4.14,"y":1.5},{"p":2,"s":"r","x":4.0,"y":1.82},{"p":2,"s":"r","x":3.78,"y":2.2},{"p":2,"s":"r","x":4.05,"y":12.7},{"p":2,"s":"r","x":4.23,"y":7.3},{"p":2,"s":"r","x":4.18,"y":4.66},{"p":2,"s":"r","x":7.53,"y":0.24},{"p":2,"s":"r","x":7.7,"y":0.24},{"p":2,"s":"r","x":7.88,"y":0.24},{"p":2,"s":"r","x":8.34,"y":0.25},{"p":2,"s":"r","x":8.47,"y":0.25},{"p":2,"s":"r","x":8.81,"y":0.24},{"p":2,"s":"r","x":9.41,"y":0.25},{"p":2,"s":"r","x":4.03,"y":10.2},{"p":2,"s":"r","x":3.83,"y":14.4},{"p":2,"s":"r","x":4.32,"y":20},{"p":2,"s":"r","x":4.46,"y":0.36},{"p":2,"s":"r","x":4.15,"y":1.25},
{"p":2,"s":"o","h":1,"x":3.64,"y":0.33},{"p":2,"s":"o","h":1,"x":3.66,"y":0.36},{"p":2,"s":"o","h":1,"x":3.67,"y":0.23},{"p":2,"s":"o","h":1,"x":3.76,"y":0.22},{"p":2,"s":"o","h":1,"x":3.86,"y":0.22},{"p":2,"s":"o","h":1,"x":3.81,"y":0.24},
{"p":2,"s":"b","h":1,"x":3.43,"y":0.55},{"p":2,"s":"b","h":1,"x":3.48,"y":0.41},{"p":2,"s":"b","h":1,"x":3.43,"y":0.3},{"p":2,"s":"b","h":1,"x":3.55,"y":0.21},{"p":2,"s":"b","h":1,"x":3.7,"y":0.2},{"p":2,"s":"b","h":1,"x":3.79,"y":0.26},{"p":2,"s":"b","h":1,"x":3.83,"y":0.24},
{"p":3,"s":"b","x":4.36,"y":5.1},{"p":3,"s":"b","x":4.46,"y":8.4},{"p":3,"s":"b","x":4.42,"y":1.38},{"p":3,"s":"b","x":4.4,"y":1.08},{"p":3,"s":"b","x":4.4,"y":0.79},{"p":3,"s":"b","x":4.46,"y":0.84},{"p":3,"s":"b","x":4.6,"y":3.1},{"p":3,"s":"b","x":4.77,"y":2.2},{"p":3,"s":"b","x":4.82,"y":0.29},{"p":3,"s":"b","x":5.01,"y":4.2},{"p":3,"s":"b","x":5.02,"y":1.0},{"p":3,"s":"b","x":5.01,"y":0.54},{"p":3,"s":"b","x":5.09,"y":0.37},{"p":3,"s":"b","x":5.18,"y":1.05},{"p":3,"s":"b","x":5.31,"y":3.1},{"p":3,"s":"b","x":5.32,"y":2.8},{"p":3,"s":"b","x":5.25,"y":1.77},{"p":3,"s":"b","x":5.35,"y":1.47},{"p":3,"s":"b","x":5.48,"y":6.0},{"p":3,"s":"b","x":5.58,"y":19.5},{"p":3,"s":"b","x":5.57,"y":11.4},{"p":3,"s":"b","x":5.63,"y":1.84},{"p":3,"s":"b","x":5.63,"y":18.9},{"p":3,"s":"b","x":5.73,"y":0.27},{"p":3,"s":"b","x":5.85,"y":22.6},{"p":3,"s":"b","x":5.89,"y":9.2},{"p":3,"s":"b","x":5.9,"y":21.4},{"p":3,"s":"b","x":5.94,"y":15.6},{"p":3,"s":"b","x":6.03,"y":22.6},{"p":3,"s":"b","x":5.97,"y":0.33},{"p":3,"s":"b","x":6.04,"y":3.9},{"p":3,"s":"b","x":6.06,"y":1.25},{"p":3,"s":"b","x":6.11,"y":0.31},{"p":3,"s":"b","x":6.15,"y":13.8},{"p":3,"s":"b","x":6.21,"y":0.72},{"p":3,"s":"b","x":6.25,"y":0.72},{"p":3,"s":"b","x":6.3,"y":3.3},{"p":3,"s":"b","x":6.34,"y":0.36},{"p":3,"s":"b","x":6.31,"y":0.27},{"p":3,"s":"b","x":6.39,"y":4.8},{"p":3,"s":"b","x":6.47,"y":0.93},{"p":3,"s":"b","x":6.52,"y":1.04},{"p":3,"s":"b","x":6.49,"y":17.7},{"p":3,"s":"b","x":6.58,"y":2.75},{"p":3,"s":"b","x":6.59,"y":2.1},{"p":3,"s":"b","x":6.58,"y":0.26},{"p":3,"s":"b","x":6.62,"y":0.26},{"p":3,"s":"b","x":6.7,"y":0.98},{"p":3,"s":"b","x":6.7,"y":3.8},{"p":3,"s":"b","x":6.87,"y":0.27},{"p":3,"s":"b","x":6.97,"y":9.7},{"p":3,"s":"b","x":7.05,"y":20.5},{"p":3,"s":"b","x":7.04,"y":5.3},{"p":3,"s":"b","x":7.09,"y":5.4},{"p":3,"s":"b","x":7.06,"y":0.82},{"p":3,"s":"b","x":7.11,"y":2.6},{"p":3,"s":"b","x":7.11,"y":16.7},{"p":3,"s":"b","x":7.16,"y":1.25},{"p":3,"s":"b","x":7.25,"y":11.3},{"p":3,"s":"b","x":7.35,"y":12.7},{"p":3,"s":"b","x":7.56,"y":0.3},{"p":3,"s":"b","x":7.54,"y":16.7},{"p":3,"s":"b","x":8.02,"y":0.22},{"p":3,"s":"b","x":8.24,"y":16.7},{"p":3,"s":"b","x":8.59,"y":16.1},{"p":3,"s":"b","x":8.61,"y":0.26},{"p":3,"s":"b","x":8.67,"y":0.24},{"p":3,"s":"b","x":9.02,"y":15.9},{"p":3,"s":"b","x":9.12,"y":15.3},{"p":3,"s":"b","x":9.36,"y":0.23},{"p":3,"s":"b","x":9.59,"y":15.3},{"p":3,"s":"b","x":9.64,"y":0.24},{"p":3,"s":"b","x":9.93,"y":0.28},{"p":3,"s":"b","x":4.35,"y":1.4},{"p":3,"s":"b","x":4.55,"y":3.5},{"p":3,"s":"b","x":4.57,"y":2.3},
{"p":3,"s":"o","x":4.25,"y":2.0},{"p":3,"s":"o","x":4.2,"y":1.77},{"p":3,"s":"o","x":4.32,"y":4.2},{"p":3,"s":"o","x":4.36,"y":4.4},{"p":3,"s":"o","x":4.43,"y":3.3},{"p":3,"s":"o","x":4.61,"y":8.4},{"p":3,"s":"o","x":4.41,"y":0.5},{"p":3,"s":"o","x":4.41,"y":0.45},{"p":3,"s":"o","x":4.43,"y":0.47},{"p":3,"s":"o","x":4.45,"y":0.51},{"p":3,"s":"o","x":4.5,"y":0.51},{"p":3,"s":"o","x":4.53,"y":0.4},{"p":3,"s":"o","x":4.56,"y":0.35},{"p":3,"s":"o","x":4.58,"y":0.26},{"p":3,"s":"o","x":4.7,"y":7.9},{"p":3,"s":"o","x":4.75,"y":11.5},{"p":3,"s":"o","x":4.77,"y":9.7},{"p":3,"s":"o","x":4.8,"y":13.3},{"p":3,"s":"o","x":4.89,"y":16.3},{"p":3,"s":"o","x":4.99,"y":16.3},{"p":3,"s":"o","x":5.06,"y":15.9},{"p":3,"s":"o","x":5.15,"y":14.7},{"p":3,"s":"o","x":5.29,"y":15.1},{"p":3,"s":"o","x":4.65,"y":4.5},{"p":3,"s":"o","x":4.73,"y":0.27},{"p":3,"s":"o","x":4.86,"y":0.4},{"p":3,"s":"o","x":5.13,"y":0.27},{"p":3,"s":"o","x":5.39,"y":0.27},{"p":3,"s":"o","x":5.62,"y":0.19},{"p":3,"s":"o","x":5.8,"y":0.22},{"p":3,"s":"o","x":6.06,"y":0.19},{"p":3,"s":"o","x":6.09,"y":23.5},{"p":3,"s":"o","x":6.15,"y":23.5},{"p":3,"s":"o","x":6.18,"y":22.6},{"p":3,"s":"o","x":6.27,"y":21},{"p":3,"s":"o","x":6.43,"y":20.5},{"p":3,"s":"o","x":6.5,"y":20.5},{"p":3,"s":"o","x":6.79,"y":21.8},{"p":3,"s":"o","x":5.55,"y":18.9},{"p":3,"s":"o","x":5.7,"y":18.9},{"p":3,"s":"o","x":4.3,"y":1.5},{"p":3,"s":"o","x":4.38,"y":2.9},{"p":3,"s":"o","x":4.27,"y":0.95},{"p":3,"s":"o","x":4.6,"y":1.1},{"p":3,"s":"o","x":4.5,"y":5.5},{"p":3,"s":"o","x":4.68,"y":0.85},
{"p":3,"s":"g","x":4.36,"y":2.4},{"p":3,"s":"g","x":4.4,"y":1.9},{"p":3,"s":"g","x":4.47,"y":2.7},{"p":3,"s":"g","x":4.42,"y":1.22},{"p":3,"s":"g","x":4.45,"y":0.74},{"p":3,"s":"g","x":4.49,"y":1.3},{"p":3,"s":"g","x":4.53,"y":0.44},{"p":3,"s":"g","x":4.58,"y":0.44},{"p":3,"s":"g","x":4.63,"y":0.74},{"p":3,"s":"g","x":4.67,"y":0.58},{"p":3,"s":"g","x":4.73,"y":0.4},{"p":3,"s":"g","x":4.77,"y":0.45},{"p":3,"s":"g","x":4.8,"y":0.51},{"p":3,"s":"g","x":4.7,"y":1.0},{"p":3,"s":"g","x":4.77,"y":1.0},{"p":3,"s":"g","x":4.86,"y":3.1},{"p":3,"s":"g","x":4.87,"y":4.5},{"p":3,"s":"g","x":4.94,"y":4.4},{"p":3,"s":"g","x":4.73,"y":8.1},{"p":3,"s":"g","x":4.79,"y":8.7},{"p":3,"s":"g","x":4.7,"y":7.0},{"p":3,"s":"g","x":4.75,"y":5.4},{"p":3,"s":"g","x":4.77,"y":12.7},{"p":3,"s":"g","x":4.8,"y":13},{"p":3,"s":"g","x":4.85,"y":12},{"p":3,"s":"g","x":4.91,"y":13.3},{"p":3,"s":"g","x":4.98,"y":10.4},{"p":3,"s":"g","x":5.06,"y":12.7},{"p":3,"s":"g","x":5.09,"y":11.5},{"p":3,"s":"g","x":5.12,"y":14},{"p":3,"s":"g","x":5.18,"y":15},{"p":3,"s":"g","x":5.25,"y":16.1},{"p":3,"s":"g","x":5.31,"y":16.3},{"p":3,"s":"g","x":5.37,"y":16.7},{"p":3,"s":"g","x":5.46,"y":16.7},{"p":3,"s":"g","x":5.64,"y":17.7},{"p":3,"s":"g","x":5.71,"y":17.7},{"p":3,"s":"g","x":4.92,"y":0.23},{"p":3,"s":"g","x":5.09,"y":0.25},{"p":3,"s":"g","x":5.17,"y":0.33},{"p":3,"s":"g","x":5.25,"y":0.29},{"p":3,"s":"g","x":5.39,"y":0.26},{"p":3,"s":"g","x":5.56,"y":0.23},{"p":3,"s":"g","x":5.7,"y":0.22},{"p":3,"s":"g","x":5.8,"y":0.22},{"p":3,"s":"g","x":6.51,"y":0.2},{"p":3,"s":"g","x":6.82,"y":0.2},{"p":3,"s":"g","x":6.99,"y":0.21},{"p":3,"s":"g","x":7.18,"y":0.2},{"p":3,"s":"g","x":7.26,"y":0.2},{"p":3,"s":"g","x":7.62,"y":0.21},{"p":3,"s":"g","x":7.23,"y":18.4},{"p":3,"s":"g","x":7.37,"y":19.5},{"p":3,"s":"g","x":7.4,"y":17.5},{"p":3,"s":"g","x":7.43,"y":18.8},{"p":3,"s":"g","x":7.62,"y":18.4},{"p":3,"s":"g","x":5.04,"y":1.77},{"p":3,"s":"g","x":5.03,"y":1.22},{"p":3,"s":"g","x":5.04,"y":0.7},{"p":3,"s":"g","x":5.1,"y":0.65},{"p":3,"s":"g","x":5.23,"y":0.4},{"p":3,"s":"g","x":5.25,"y":0.6},{"p":3,"s":"g","x":4.6,"y":2.0},{"p":3,"s":"g","x":4.55,"y":6.0},{"p":3,"s":"g","x":4.65,"y":10.5},
{"p":3,"s":"r","x":4.58,"y":1.47},{"p":3,"s":"r","x":4.63,"y":3.74},{"p":3,"s":"r","x":4.73,"y":1.6},{"p":3,"s":"r","x":4.87,"y":1.35},{"p":3,"s":"r","x":4.91,"y":0.95},{"p":3,"s":"r","x":4.98,"y":3.1},{"p":3,"s":"r","x":4.99,"y":5.9},{"p":3,"s":"r","x":5.01,"y":7.4},{"p":3,"s":"r","x":5.06,"y":8.4},{"p":3,"s":"r","x":5.22,"y":2.1},{"p":3,"s":"r","x":5.26,"y":4.0},{"p":3,"s":"r","x":5.18,"y":1.67},{"p":3,"s":"r","x":5.08,"y":0.31},{"p":3,"s":"r","x":4.94,"y":0.37},{"p":3,"s":"r","x":5.56,"y":2.1},{"p":3,"s":"r","x":5.56,"y":0.65},{"p":3,"s":"r","x":5.55,"y":0.49},{"p":3,"s":"r","x":5.65,"y":9.2},{"p":3,"s":"r","x":5.76,"y":0.66},{"p":3,"s":"r","x":5.77,"y":0.61},{"p":3,"s":"r","x":5.87,"y":4.3},{"p":3,"s":"r","x":5.96,"y":1.88},{"p":3,"s":"r","x":5.97,"y":1.38},{"p":3,"s":"r","x":6.08,"y":1.08},{"p":3,"s":"r","x":6.04,"y":6.8},{"p":3,"s":"r","x":6.15,"y":0.58},{"p":3,"s":"r","x":6.25,"y":0.58},{"p":3,"s":"r","x":6.23,"y":4.2},{"p":3,"s":"r","x":6.23,"y":19.3},{"p":3,"s":"r","x":6.3,"y":1.6},{"p":3,"s":"r","x":6.44,"y":13.4},{"p":3,"s":"r","x":6.47,"y":1.35},{"p":3,"s":"r","x":6.49,"y":2.75},{"p":3,"s":"r","x":6.52,"y":2.15},{"p":3,"s":"r","x":6.6,"y":1.35},{"p":3,"s":"r","x":6.52,"y":5.8},{"p":3,"s":"r","x":6.43,"y":0.25},{"p":3,"s":"r","x":6.6,"y":9.5},{"p":3,"s":"r","x":6.69,"y":11.5},{"p":3,"s":"r","x":6.73,"y":8.6},{"p":3,"s":"r","x":6.7,"y":0.82},{"p":3,"s":"r","x":6.81,"y":0.7},{"p":3,"s":"r","x":6.85,"y":2.27},{"p":3,"s":"r","x":6.99,"y":1.04},{"p":3,"s":"r","x":6.97,"y":0.29},{"p":3,"s":"r","x":7.09,"y":0.33},{"p":3,"s":"r","x":7.18,"y":0.39},{"p":3,"s":"r","x":7.18,"y":0.36},{"p":3,"s":"r","x":7.66,"y":0.27},{"p":3,"s":"r","x":7.34,"y":21},{"p":3,"s":"r","x":7.95,"y":16.7},{"p":3,"s":"r","x":8.07,"y":16.1},{"p":3,"s":"r","x":8.62,"y":15.3},{"p":3,"s":"r","x":8.84,"y":15.6},{"p":3,"s":"r","x":9.07,"y":13.9},{"p":3,"s":"r","x":9.9,"y":13.6},{"p":3,"s":"r","x":8.93,"y":0.25},{"p":3,"s":"r","x":9.0,"y":0.25},{"p":3,"s":"r","x":9.16,"y":0.25},{"p":3,"s":"r","x":9.52,"y":0.25},{"p":3,"s":"r","x":4.7,"y":6.2},{"p":3,"s":"r","x":4.53,"y":3.3},{"p":3,"s":"r","x":4.77,"y":0.74},{"p":3,"s":"r","x":5.6,"y":20},{"p":3,"s":"r","x":5.68,"y":19.5},{"p":3,"s":"r","x":4.85,"y":0.6},{"p":3,"s":"r","x":4.62,"y":0.44},{"p":3,"s":"r","x":4.75,"y":2.6},
{"p":4,"s":"b","x":6.99,"y":7.4},{"p":4,"s":"b","x":7.37,"y":5.6},{"p":4,"s":"b","x":7.66,"y":4.6},{"p":4,"s":"b","x":7.8,"y":3.4},{"p":4,"s":"b","x":7.93,"y":3.7},{"p":4,"s":"b","x":8.11,"y":4.8},{"p":4,"s":"b","x":8.18,"y":5.3},{"p":4,"s":"b","x":8.21,"y":5.4},{"p":4,"s":"b","x":8.55,"y":4.0},{"p":4,"s":"b","x":8.83,"y":4.3},{"p":4,"s":"b","x":8.92,"y":3.1},{"p":4,"s":"b","x":9.0,"y":3.0},{"p":4,"s":"b","x":9.17,"y":3.3},{"p":4,"s":"b","x":9.21,"y":3.5},{"p":4,"s":"b","x":9.45,"y":2.7},{"p":4,"s":"b","x":9.59,"y":2.27},{"p":4,"s":"b","x":9.45,"y":1.77},{"p":4,"s":"b","x":9.17,"y":1.88},{"p":4,"s":"b","x":9.05,"y":2.05},{"p":4,"s":"b","x":8.86,"y":1.57},{"p":4,"s":"b","x":9.0,"y":1.3},{"p":4,"s":"b","x":9.14,"y":1.3},{"p":4,"s":"b","x":9.17,"y":1.35},{"p":4,"s":"b","x":9.12,"y":1.1},{"p":4,"s":"b","x":9.12,"y":0.95},{"p":4,"s":"b","x":8.77,"y":2.0},{"p":4,"s":"b","x":8.52,"y":1.57},{"p":4,"s":"b","x":8.38,"y":1.38},{"p":4,"s":"b","x":8.21,"y":1.15},{"p":4,"s":"b","x":8.18,"y":0.86},{"p":4,"s":"b","x":8.11,"y":0.79},{"p":4,"s":"b","x":8.23,"y":0.74},{"p":4,"s":"b","x":8.31,"y":0.69},{"p":4,"s":"b","x":8.11,"y":0.65},{"p":4,"s":"b","x":7.93,"y":0.67},{"p":4,"s":"b","x":7.8,"y":0.79},{"p":4,"s":"b","x":7.66,"y":0.74},{"p":4,"s":"b","x":7.69,"y":0.65},{"p":4,"s":"b","x":7.59,"y":0.95},{"p":4,"s":"b","x":7.56,"y":1.08},{"p":4,"s":"b","x":7.49,"y":0.84},{"p":4,"s":"b","x":7.42,"y":0.84},{"p":4,"s":"b","x":7.28,"y":0.56},{"p":4,"s":"b","x":7.11,"y":0.53},{"p":4,"s":"b","x":7.04,"y":0.54},{"p":4,"s":"b","x":6.9,"y":0.65},{"p":4,"s":"b","x":6.83,"y":0.79},{"p":4,"s":"b","x":7.0,"y":1.67},{"p":4,"s":"b","x":7.73,"y":2.3},{"p":4,"s":"b","x":7.83,"y":2.85},{"p":4,"s":"b","x":7.66,"y":1.88},{"p":4,"s":"b","x":7.52,"y":2.1},{"p":4,"s":"b","x":7.28,"y":3.3},{"p":4,"s":"b","x":8.04,"y":2.1},{"p":4,"s":"b","x":7.97,"y":1.57},{"p":4,"s":"b","x":8.07,"y":1.22},{"p":4,"s":"b","x":8.31,"y":1.67},{"p":4,"s":"b","x":7.52,"y":4.6},{"p":4,"s":"b","x":8.62,"y":1.25},{"p":4,"s":"b","x":8.69,"y":1.2},{"p":4,"s":"b","x":7.15,"y":2.8},{"p":4,"s":"b","x":6.95,"y":1.3},
{"p":4,"s":"o","x":6.73,"y":4.2},{"p":4,"s":"o","x":6.71,"y":3.8},{"p":4,"s":"o","x":6.7,"y":1.77},{"p":4,"s":"o","x":6.68,"y":1.4},{"p":4,"s":"o","x":6.72,"y":1.5},{"p":4,"s":"o","x":6.76,"y":1.57},{"p":4,"s":"o","x":6.66,"y":2.75},{"p":4,"s":"o","x":6.8,"y":5.1},{"p":4,"s":"o","x":6.85,"y":3.2},{"p":4,"s":"o","x":6.76,"y":1.08},{"p":4,"s":"o","x":6.83,"y":0.95},{"p":4,"s":"o","x":6.87,"y":0.54},{"p":4,"s":"o","x":6.92,"y":0.54},{"p":4,"s":"o","x":6.85,"y":0.72},{"p":4,"s":"o","x":7.04,"y":0.74},{"p":4,"s":"o","x":7.21,"y":1.3},{"p":4,"s":"o","x":7.38,"y":0.65},{"p":4,"s":"o","x":7.49,"y":0.89},{"p":4,"s":"o","x":7.42,"y":0.58},{"p":4,"s":"o","x":7.32,"y":5.4},{"p":4,"s":"o","x":7.42,"y":4.7},{"p":4,"s":"o","x":7.45,"y":3.7},{"p":4,"s":"o","x":7.52,"y":4.2},{"p":4,"s":"o","x":7.52,"y":6.6},{"p":4,"s":"o","x":7.0,"y":6.8},{"p":4,"s":"o","x":6.9,"y":2.0},{"p":4,"s":"o","x":6.88,"y":1.5},{"p":4,"s":"o","x":6.95,"y":1.1},{"p":4,"s":"o","x":7.3,"y":2.9},{"p":4,"s":"o","x":6.7,"y":1.6},
{"p":4,"s":"g","x":6.83,"y":4.8},{"p":4,"s":"g","x":6.9,"y":4.9},{"p":4,"s":"g","x":6.94,"y":4.3},{"p":4,"s":"g","x":7.04,"y":3.1},{"p":4,"s":"g","x":7.04,"y":2.4},{"p":4,"s":"g","x":7.11,"y":5.6},{"p":4,"s":"g","x":7.19,"y":6.2},{"p":4,"s":"g","x":7.21,"y":7.0},{"p":4,"s":"g","x":7.28,"y":4.2},{"p":4,"s":"g","x":7.32,"y":3.5},{"p":4,"s":"g","x":7.38,"y":2.9},{"p":4,"s":"g","x":7.4,"y":3.2},{"p":4,"s":"g","x":7.45,"y":4.0},{"p":4,"s":"g","x":7.52,"y":5.1},{"p":4,"s":"g","x":7.56,"y":5.8},{"p":4,"s":"g","x":7.58,"y":5.5},{"p":4,"s":"g","x":7.45,"y":1.67},{"p":4,"s":"g","x":7.49,"y":1.55},{"p":4,"s":"g","x":7.43,"y":1.35},{"p":4,"s":"g","x":7.56,"y":1.22},{"p":4,"s":"g","x":7.59,"y":0.95},{"p":4,"s":"g","x":7.56,"y":0.8},{"p":4,"s":"g","x":6.8,"y":1.6},{"p":4,"s":"g","x":6.83,"y":1.3},{"p":4,"s":"g","x":6.9,"y":0.95},{"p":4,"s":"g","x":6.97,"y":0.74},{"p":4,"s":"g","x":7.11,"y":0.65},{"p":4,"s":"g","x":7.18,"y":0.74},{"p":4,"s":"g","x":7.25,"y":0.8},{"p":4,"s":"g","x":7.35,"y":0.8},{"p":4,"s":"g","x":7.44,"y":0.82},{"p":4,"s":"g","x":6.83,"y":2.6},{"p":4,"s":"g","x":6.94,"y":3.0},{"p":4,"s":"g","x":7.11,"y":1.38},{"p":4,"s":"g","x":7.25,"y":1.57},{"p":4,"s":"g","x":7.35,"y":1.7},{"p":4,"s":"g","x":7.18,"y":2.1},{"p":4,"s":"g","x":7.42,"y":2.4},{"p":4,"s":"g","x":7.06,"y":1.1},{"p":4,"s":"g","x":6.86,"y":0.6},
{"p":4,"s":"r","x":7.0,"y":3.74},{"p":4,"s":"r","x":7.11,"y":3.3},{"p":4,"s":"r","x":7.25,"y":2.65},{"p":4,"s":"r","x":7.35,"y":4.0},{"p":4,"s":"r","x":7.49,"y":4.2},{"p":4,"s":"r","x":7.37,"y":2.5},{"p":4,"s":"r","x":7.44,"y":2.14},{"p":4,"s":"r","x":7.56,"y":1.89},{"p":4,"s":"r","x":7.66,"y":2.4},{"p":4,"s":"r","x":7.76,"y":3.3},{"p":4,"s":"r","x":7.8,"y":3.74},{"p":4,"s":"r","x":7.93,"y":2.9},{"p":4,"s":"r","x":8.04,"y":2.58},{"p":4,"s":"r","x":8.18,"y":2.0},{"p":4,"s":"r","x":8.27,"y":2.0},{"p":4,"s":"r","x":8.38,"y":2.58},{"p":4,"s":"r","x":8.42,"y":3.74},{"p":4,"s":"r","x":8.49,"y":2.14},{"p":4,"s":"r","x":8.52,"y":1.77},{"p":4,"s":"r","x":8.59,"y":1.67},{"p":4,"s":"r","x":8.59,"y":1.15},{"p":4,"s":"r","x":8.59,"y":1.0},{"p":4,"s":"r","x":8.61,"y":1.38},{"p":4,"s":"r","x":8.69,"y":2.75},{"p":4,"s":"r","x":8.8,"y":2.2},{"p":4,"s":"r","x":8.9,"y":2.4},{"p":4,"s":"r","x":8.93,"y":2.25},{"p":4,"s":"r","x":8.98,"y":2.35},{"p":4,"s":"r","x":8.86,"y":1.9},{"p":4,"s":"r","x":9.02,"y":2.5},{"p":4,"s":"r","x":7.93,"y":2.0},{"p":4,"s":"r","x":7.35,"y":1.22},{"p":4,"s":"r","x":7.49,"y":1.22},{"p":4,"s":"r","x":7.59,"y":1.42},{"p":4,"s":"r","x":7.8,"y":1.25},{"p":4,"s":"r","x":7.83,"y":1.1},{"p":4,"s":"r","x":8.21,"y":1.6},{"p":4,"s":"r","x":6.94,"y":0.85},{"p":4,"s":"r","x":7.04,"y":0.95},{"p":4,"s":"r","x":7.11,"y":0.8},{"p":4,"s":"r","x":7.21,"y":0.84},{"p":4,"s":"r","x":7.31,"y":0.95},{"p":4,"s":"r","x":6.97,"y":1.4},{"p":4,"s":"r","x":7.07,"y":1.55},{"p":4,"s":"r","x":7.18,"y":1.7},{"p":4,"s":"r","x":6.9,"y":2.58},{"p":4,"s":"r","x":7.04,"y":5.1},{"p":4,"s":"r","x":7.25,"y":3.74},{"p":4,"s":"r","x":6.97,"y":0.62},{"p":4,"s":"r","x":7.04,"y":0.7},{"p":4,"s":"r","x":7.38,"y":0.66},{"p":4,"s":"r","x":6.78,"y":1.22},{"p":4,"s":"r","x":6.87,"y":1.22},{"p":4,"s":"r","x":7.18,"y":1.08},{"p":4,"s":"r","x":7.25,"y":0.58},{"p":4,"s":"r","x":7.45,"y":1.6},{"p":4,"s":"r","x":7.62,"y":3.0},{"p":4,"s":"r","x":7.1,"y":4.5}
  ]},
  "concat": [
    {
      "title": "tanβ = 50",
      "width": 339, "height": 209,
      "transform": [{"filter": "datum.p == 1"}],
      "layer": [
        {"mark": {"type": "circle", "size": 16, "strokeWidth": 0.8, "opacity": 1},
         "encoding": {
           "x": {"field": "x", "type": "quantitative", "scale": {"domain": [3, 10], "nice": false, "zero": false}, "axis": {"orient": "bottom", "values": [3,3.2,3.4,3.6,3.8,4,4.2,4.4,4.6,4.8,5,5.2,5.4,5.6,5.8,6,6.2,6.4,6.6,6.8,7,7.2,7.4,7.6,7.8,8,8.2,8.4,8.6,8.8,9,9.2,9.4,9.6,9.8,10], "labelExpr": "datum.value % 1 == 0 ? format(datum.value, 'd') : ''", "tickSize": {"condition": {"test": "datum.value % 1 == 0", "value": -5}, "value": -2.5}, "labelPadding": 7, "title": "log₁₀(Mₛ/GeV)", "titlePadding": 5}},
           "y": {"field": "y", "type": "quantitative", "scale": {"type": "log", "domain": [0.02, 50], "nice": false}, "axis": {"orient": "left", "values": [0.02,0.03,0.04,0.05,0.06,0.07,0.08,0.09,0.1,0.2,0.3,0.4,0.5,0.6,0.7,0.8,0.9,1,2,3,4,5,6,7,8,9,10,20,30,40,50], "labelExpr": "datum.value == 0.05 ? '0.05' : datum.value == 0.1 ? '0.10' : datum.value == 0.5 ? '0.50' : datum.value == 1 ? '1' : datum.value == 5 ? '5' : datum.value == 10 ? '10' : datum.value == 50 ? '50' : ''", "tickSize": {"condition": {"test": "indexof([0.1,1,10], datum.value) >= 0", "value": -5}, "value": -2.5}, "labelPadding": 6, "title": "|M₃| / Mₛ", "titlePadding": 3}},
           "fill": {"field": "s", "type": "nominal", "scale": {"domain": ["b","o","g","r"], "range": ["#5E81B5","#E19C24","#8FB032","#EB6235"]}, "legend": null},
           "stroke": {"field": "s", "type": "nominal", "scale": {"domain": ["b","o","g","r"], "range": ["#5E81B5","#E19C24","#8FB032","#EB6235"]}, "legend": null},
           "fillOpacity": {"condition": {"test": "datum.h == 1", "value": 0}, "value": 1}
         }},
        {"mark": {"type": "circle", "opacity": 0},
         "encoding": {
           "x": {"field": "x", "type": "quantitative", "axis": {"orient": "top", "values": [3,3.2,3.4,3.6,3.8,4,4.2,4.4,4.6,4.8,5,5.2,5.4,5.6,5.8,6,6.2,6.4,6.6,6.8,7,7.2,7.4,7.6,7.8,8,8.2,8.4,8.6,8.8,9,9.2,9.4,9.6,9.8,10], "labels": false, "title": null, "tickSize": {"condition": {"test": "datum.value % 1 == 0", "value": -5}, "value": -2.5}}},
           "y": {"field": "y", "type": "quantitative", "axis": {"orient": "right", "values": [0.02,0.03,0.04,0.05,0.06,0.07,0.08,0.09,0.1,0.2,0.3,0.4,0.5,0.6,0.7,0.8,0.9,1,2,3,4,5,6,7,8,9,10,20,30,40,50], "labels": false, "title": null, "tickSize": {"condition": {"test": "indexof([0.1,1,10], datum.value) >= 0", "value": -5}, "value": -2.5}}}
         }}
      ],
      "resolve": {"axis": {"x": "independent", "y": "independent"}}
    },
    {
      "title": "tanβ = 10",
      "width": 339, "height": 209,
      "transform": [{"filter": "datum.p == 2"}],
      "layer": [
        {"mark": {"type": "circle", "size": 16, "strokeWidth": 0.8, "opacity": 1},
         "encoding": {
           "x": {"field": "x", "type": "quantitative", "scale": {"domain": [3, 10], "nice": false, "zero": false}, "axis": {"orient": "bottom", "values": [3,3.2,3.4,3.6,3.8,4,4.2,4.4,4.6,4.8,5,5.2,5.4,5.6,5.8,6,6.2,6.4,6.6,6.8,7,7.2,7.4,7.6,7.8,8,8.2,8.4,8.6,8.8,9,9.2,9.4,9.6,9.8,10], "labelExpr": "datum.value % 1 == 0 ? format(datum.value, 'd') : ''", "tickSize": {"condition": {"test": "datum.value % 1 == 0", "value": -5}, "value": -2.5}, "labelPadding": 7, "title": "log₁₀(Mₛ/GeV)", "titlePadding": 5}},
           "y": {"field": "y", "type": "quantitative", "scale": {"type": "log", "domain": [0.02, 50], "nice": false}, "axis": {"orient": "left", "values": [0.02,0.03,0.04,0.05,0.06,0.07,0.08,0.09,0.1,0.2,0.3,0.4,0.5,0.6,0.7,0.8,0.9,1,2,3,4,5,6,7,8,9,10,20,30,40,50], "labelExpr": "datum.value == 0.05 ? '0.05' : datum.value == 0.1 ? '0.10' : datum.value == 0.5 ? '0.50' : datum.value == 1 ? '1' : datum.value == 5 ? '5' : datum.value == 10 ? '10' : datum.value == 50 ? '50' : ''", "tickSize": {"condition": {"test": "indexof([0.1,1,10], datum.value) >= 0", "value": -5}, "value": -2.5}, "labelPadding": 6, "title": "|M₃| / Mₛ", "titlePadding": 3}},
           "fill": {"field": "s", "type": "nominal", "scale": {"domain": ["b","o","g","r"], "range": ["#5E81B5","#E19C24","#8FB032","#EB6235"]}, "legend": null},
           "stroke": {"field": "s", "type": "nominal", "scale": {"domain": ["b","o","g","r"], "range": ["#5E81B5","#E19C24","#8FB032","#EB6235"]}, "legend": null},
           "fillOpacity": {"condition": {"test": "datum.h == 1", "value": 0}, "value": 1}
         }},
        {"mark": {"type": "circle", "opacity": 0},
         "encoding": {
           "x": {"field": "x", "type": "quantitative", "axis": {"orient": "top", "values": [3,3.2,3.4,3.6,3.8,4,4.2,4.4,4.6,4.8,5,5.2,5.4,5.6,5.8,6,6.2,6.4,6.6,6.8,7,7.2,7.4,7.6,7.8,8,8.2,8.4,8.6,8.8,9,9.2,9.4,9.6,9.8,10], "labels": false, "title": null, "tickSize": {"condition": {"test": "datum.value % 1 == 0", "value": -5}, "value": -2.5}}},
           "y": {"field": "y", "type": "quantitative", "axis": {"orient": "right", "values": [0.02,0.03,0.04,0.05,0.06,0.07,0.08,0.09,0.1,0.2,0.3,0.4,0.5,0.6,0.7,0.8,0.9,1,2,3,4,5,6,7,8,9,10,20,30,40,50], "labels": false, "title": null, "tickSize": {"condition": {"test": "indexof([0.1,1,10], datum.value) >= 0", "value": -5}, "value": -2.5}}}
         }}
      ],
      "resolve": {"axis": {"x": "independent", "y": "independent"}}
    },
    {
      "title": "tanβ = 4",
      "width": 339, "height": 209,
      "transform": [{"filter": "datum.p == 3"}],
      "layer": [
        {"mark": {"type": "circle", "size": 16, "strokeWidth": 0.8, "opacity": 1},
         "encoding": {
           "x": {"field": "x", "type": "quantitative", "scale": {"domain": [3, 10], "nice": false, "zero": false}, "axis": {"orient": "bottom", "values": [3,3.2,3.4,3.6,3.8,4,4.2,4.4,4.6,4.8,5,5.2,5.4,5.6,5.8,6,6.2,6.4,6.6,6.8,7,7.2,7.4,7.6,7.8,8,8.2,8.4,8.6,8.8,9,9.2,9.4,9.6,9.8,10], "labelExpr": "datum.value % 1 == 0 ? format(datum.value, 'd') : ''", "tickSize": {"condition": {"test": "datum.value % 1 == 0", "value": -5}, "value": -2.5}, "labelPadding": 7, "title": "log₁₀(Mₛ/GeV)", "titlePadding": 5}},
           "y": {"field": "y", "type": "quantitative", "scale": {"type": "log", "domain": [0.02, 50], "nice": false}, "axis": {"orient": "left", "values": [0.02,0.03,0.04,0.05,0.06,0.07,0.08,0.09,0.1,0.2,0.3,0.4,0.5,0.6,0.7,0.8,0.9,1,2,3,4,5,6,7,8,9,10,20,30,40,50], "labelExpr": "datum.value == 0.05 ? '0.05' : datum.value == 0.1 ? '0.10' : datum.value == 0.5 ? '0.50' : datum.value == 1 ? '1' : datum.value == 5 ? '5' : datum.value == 10 ? '10' : datum.value == 50 ? '50' : ''", "tickSize": {"condition": {"test": "indexof([0.1,1,10], datum.value) >= 0", "value": -5}, "value": -2.5}, "labelPadding": 6, "title": "|M₃| / Mₛ", "titlePadding": 3}},
           "fill": {"field": "s", "type": "nominal", "scale": {"domain": ["b","o","g","r"], "range": ["#5E81B5","#E19C24","#8FB032","#EB6235"]}, "legend": null},
           "stroke": {"field": "s", "type": "nominal", "scale": {"domain": ["b","o","g","r"], "range": ["#5E81B5","#E19C24","#8FB032","#EB6235"]}, "legend": null},
           "fillOpacity": {"condition": {"test": "datum.h == 1", "value": 0}, "value": 1}
         }},
        {"mark": {"type": "circle", "opacity": 0},
         "encoding": {
           "x": {"field": "x", "type": "quantitative", "axis": {"orient": "top", "values": [3,3.2,3.4,3.6,3.8,4,4.2,4.4,4.6,4.8,5,5.2,5.4,5.6,5.8,6,6.2,6.4,6.6,6.8,7,7.2,7.4,7.6,7.8,8,8.2,8.4,8.6,8.8,9,9.2,9.4,9.6,9.8,10], "labels": false, "title": null, "tickSize": {"condition": {"test": "datum.value % 1 == 0", "value": -5}, "value": -2.5}}},
           "y": {"field": "y", "type": "quantitative", "axis": {"orient": "right", "values": [0.02,0.03,0.04,0.05,0.06,0.07,0.08,0.09,0.1,0.2,0.3,0.4,0.5,0.6,0.7,0.8,0.9,1,2,3,4,5,6,7,8,9,10,20,30,40,50], "labels": false, "title": null, "tickSize": {"condition": {"test": "indexof([0.1,1,10], datum.value) >= 0", "value": -5}, "value": -2.5}}}
         }}
      ],
      "resolve": {"axis": {"x": "independent", "y": "independent"}}
    },
    {
      "title": "tanβ = 2",
      "width": 339, "height": 209,
      "transform": [{"filter": "datum.p == 4"}],
      "layer": [
        {"mark": {"type": "circle", "size": 16, "strokeWidth": 0.8, "opacity": 1},
         "encoding": {
           "x": {"field": "x", "type": "quantitative", "scale": {"domain": [3, 10], "nice": false, "zero": false}, "axis": {"orient": "bottom", "values": [3,3.2,3.4,3.6,3.8,4,4.2,4.4,4.6,4.8,5,5.2,5.4,5.6,5.8,6,6.2,6.4,6.6,6.8,7,7.2,7.4,7.6,7.8,8,8.2,8.4,8.6,8.8,9,9.2,9.4,9.6,9.8,10], "labelExpr": "datum.value % 1 == 0 ? format(datum.value, 'd') : ''", "tickSize": {"condition": {"test": "datum.value % 1 == 0", "value": -5}, "value": -2.5}, "labelPadding": 7, "title": "log₁₀(Mₛ/GeV)", "titlePadding": 5}},
           "y": {"field": "y", "type": "quantitative", "scale": {"type": "log", "domain": [0.02, 50], "nice": false}, "axis": {"orient": "left", "values": [0.02,0.03,0.04,0.05,0.06,0.07,0.08,0.09,0.1,0.2,0.3,0.4,0.5,0.6,0.7,0.8,0.9,1,2,3,4,5,6,7,8,9,10,20,30,40,50], "labelExpr": "datum.value == 0.05 ? '0.05' : datum.value == 0.1 ? '0.10' : datum.value == 0.5 ? '0.50' : datum.value == 1 ? '1' : datum.value == 5 ? '5' : datum.value == 10 ? '10' : datum.value == 50 ? '50' : ''", "tickSize": {"condition": {"test": "indexof([0.1,1,10], datum.value) >= 0", "value": -5}, "value": -2.5}, "labelPadding": 6, "title": "|M₃| / Mₛ", "titlePadding": 3}},
           "fill": {"field": "s", "type": "nominal", "scale": {"domain": ["b","o","g","r"], "range": ["#5E81B5","#E19C24","#8FB032","#EB6235"]}, "legend": null},
           "stroke": {"field": "s", "type": "nominal", "scale": {"domain": ["b","o","g","r"], "range": ["#5E81B5","#E19C24","#8FB032","#EB6235"]}, "legend": null},
           "fillOpacity": {"condition": {"test": "datum.h == 1", "value": 0}, "value": 1}
         }},
        {"mark": {"type": "circle", "opacity": 0},
         "encoding": {
           "x": {"field": "x", "type": "quantitative", "axis": {"orient": "top", "values": [3,3.2,3.4,3.6,3.8,4,4.2,4.4,4.6,4.8,5,5.2,5.4,5.6,5.8,6,6.2,6.4,6.6,6.8,7,7.2,7.4,7.6,7.8,8,8.2,8.4,8.6,8.8,9,9.2,9.4,9.6,9.8,10], "labels": false, "title": null, "tickSize": {"condition": {"test": "datum.value % 1 == 0", "value": -5}, "value": -2.5}}},
           "y": {"field": "y", "type": "quantitative", "axis": {"orient": "right", "values": [0.02,0.03,0.04,0.05,0.06,0.07,0.08,0.09,0.1,0.2,0.3,0.4,0.5,0.6,0.7,0.8,0.9,1,2,3,4,5,6,7,8,9,10,20,30,40,50], "labels": false, "title": null, "tickSize": {"condition": {"test": "indexof([0.1,1,10], datum.value) >= 0", "value": -5}, "value": -2.5}}}
         }}
      ],
      "resolve": {"axis": {"x": "independent", "y": "independent"}}
    }
  ]
}
